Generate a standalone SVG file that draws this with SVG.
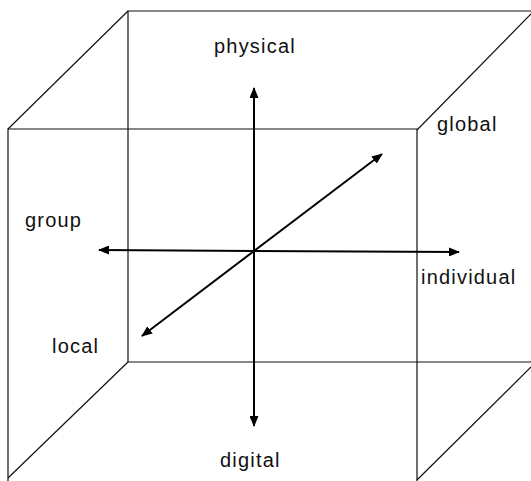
<svg xmlns="http://www.w3.org/2000/svg" width="531" height="481" viewBox="0 0 531 481">
<style>
.edge{stroke:#111;stroke-width:1.2;fill:none}
.axis{stroke:#000;stroke-width:2;fill:none}
.lbl{font-family:"Liberation Sans",Arial,sans-serif;font-size:20px;fill:#111;letter-spacing:1.2px}
</style>
<defs>
<marker id="ah" viewBox="0 0 11 9" refX="10" refY="4.5" markerWidth="11" markerHeight="9" markerUnits="userSpaceOnUse" orient="auto">
<path d="M0,0 L11,4.5 L0,9 Z" fill="#000"/>
</marker>
</defs>
<rect width="531" height="481" fill="#fff"/>
<g id="cube">
<path class="edge" d="M531,11 H128 V362 H531"/>
<path class="edge" d="M8,481 V129 H417 V481"/>
<path class="edge" d="M8,129 L128,11"/>
<path class="edge" d="M417,130 L531,14"/>
<path class="edge" d="M417,480 L531,367"/>
<path class="edge" d="M8,478 L128,362"/>
</g>
<g id="connectors">
<line class="axis" x1="254" y1="250" x2="254" y2="88" marker-end="url(#ah)"/>
<line class="axis" x1="254" y1="250" x2="254" y2="426" marker-end="url(#ah)"/>
<line class="axis" x1="254" y1="251" x2="99" y2="250" marker-end="url(#ah)"/>
<line class="axis" x1="254" y1="251" x2="459" y2="252" marker-end="url(#ah)"/>
<line class="axis" x1="254" y1="251" x2="382" y2="154" marker-end="url(#ah)"/>
<line class="axis" x1="254" y1="251" x2="142" y2="336" marker-end="url(#ah)"/>
</g>
<g id="physical"><text class="lbl" x="214" y="53">physical</text></g>
<g id="digital"><text class="lbl" x="220" y="467">digital</text></g>
<g id="group"><text class="lbl" x="25" y="227">group</text></g>
<g id="individual"><text class="lbl" x="421" y="284">individual</text></g>
<g id="global"><text class="lbl" x="437" y="131">global</text></g>
<g id="local"><text class="lbl" x="52" y="353">local</text></g>
</svg>
